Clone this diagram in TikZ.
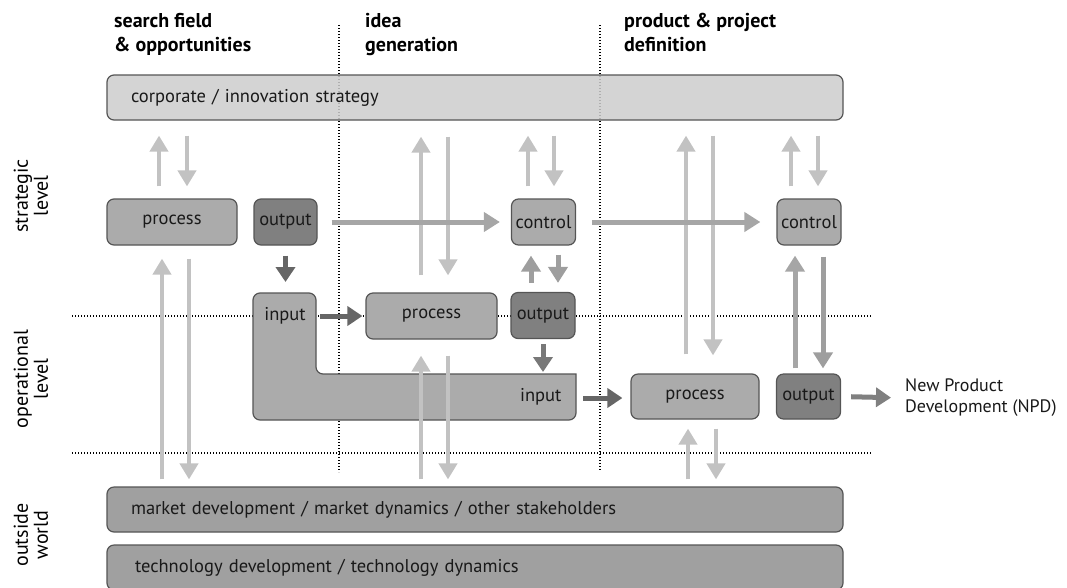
\documentclass[tikz,border=0pt]{standalone}
\usepackage{fontspec}
\setmainfont{PT Sans}
\usetikzlibrary{positioning, arrows.meta}

\definecolor{corpFill}{HTML}{CDCDCD}
\definecolor{procFill}{HTML}{ABABAB}
\definecolor{outFill}{HTML}{808080}
\definecolor{worldFill}{HTML}{A0A0A0}
\definecolor{boxLine}{HTML}{555555}
\definecolor{liteArrow}{HTML}{C2C2C2}
\definecolor{midArrow}{HTML}{A6A6A6}
\definecolor{darkArrow}{HTML}{666666}

\begin{document}
\begin{tikzpicture}[
    x=1pt, y=-1pt,
    every node/.style={font=\fontsize{18.5}{22}\selectfont, text=black!90},
    box/.style={draw=boxLine, line width=1.2pt, rounded corners=7pt, inner sep=0pt, minimum height=46pt},
    procbox/.style={box, fill=procFill},
    outbox/.style={box, fill=outFill},
    widebox/.style={box, minimum height=45pt, text width=688pt, inner xsep=24pt, align=left},
    head/.style={font=\bfseries\fontsize{20}{24}\selectfont, text=black, align=left, anchor=north west, inner sep=0pt},
    side/.style={font=\fontsize{20}{20}\selectfont, text=black, align=center, rotate=90},
    grid/.style={line width=1.2pt, dash pattern=on 1.4pt off 1.6pt},
    gaps/.style 2 args={shorten <=#1, shorten >=#2},
    lite/.style={draw=liteArrow, line width=4pt, -{Triangle[length=16pt,width=18pt]}},
    mid/.style={draw=midArrow, line width=5pt, -{Triangle[length=16pt,width=19pt]}},
    dark/.style={draw=darkArrow, line width=5pt, -{Triangle[length=15pt,width=19pt]}}
]
    \useasboundingbox (0,0) rectangle (1067,587);

    % level and phase borders
    \draw[grid] (72,316) -- (872,316);
    \draw[grid] (72,453) -- (872,453);
    \draw[grid] (339,25) -- (339,472);
    \draw[grid] (600,25) -- (600,470);

    % headers
    \node (hSearch) [head] at (114,13) {search field\\\& opportunities};
    \node (hIdea) [head] at (365,13) {idea\\generation};
    \node (hDef) [head] at (624,13) {product \& project\\definition};

    \node (lStrat) [side] at (31,196) {strategic\\level};
    \node (lOper) [side] at (31,379) {operational\\level};
    \node (lWorld) [side] at (31,535) {outside\\world};

    % strategic level
    \node (corp) [widebox, fill=corpFill, fill opacity=0.85, text opacity=1] at (475,97.5) {corporate / innovation strategy};
    \node (sProc) [procbox, minimum width=130pt] at (172,222) {process};
    \node (sOut) [outbox, minimum width=63pt] at (285.5,222) {output};
    \node (ctrlA) [procbox, minimum width=64pt] at (543.5,222) {control};
    \node (ctrlB) [procbox, minimum width=64pt] at (809,222) {control};

    % operational level
    \draw[draw=boxLine, line width=1.2pt, fill=procFill] (253,350) [rounded corners=7pt] -- (253,293) -- (316,293) -- (316,374)
        [sharp corners] -- (576,374) [rounded corners=7pt] -- (576,420) -- (253,420) -- cycle;
    \node (inA) at (285,316) {input};
    \node (inB) [anchor=east] at (565,397) {input};
    \coordinate (inTop) at (285.5,293);
    \coordinate (inTopR) at (543,374);
    \coordinate (inEdgeA) at (316,316);
    \coordinate (inEdgeB) at (576,398);

    \node (oProc) [procbox, minimum width=131pt] at (431.5,316) {process};
    \node (oOut) [outbox, minimum width=64pt] at (543,315.5) {output};
    \node (dProc) [procbox, minimum width=128pt, minimum height=45pt] at (695,396.5) {process};
    \node (dOut) [outbox, minimum width=64pt, minimum height=45pt] at (808.5,396.5) {output};
    \node (npd) [anchor=west, align=left, inner sep=0pt, font=\fontsize{18}{21}\selectfont] at (905,398) {New Product\\Development (NPD)};

    % outside world
    \node (market) [widebox, fill=worldFill] at (475,509.5) {market development / market dynamics / other stakeholders};
    \node (tech) [widebox, fill=worldFill, inner xsep=28pt, text width=680pt] at (475,567.5) {technology development / technology dynamics};

    % exchange with strategy and outside world
    \draw[lite, gaps={12pt}{15pt}] (159,0 |- sProc.north) -- (159,0 |- corp.south);
    \draw[lite, gaps={15pt}{12pt}] (187,0 |- corp.south) -- (187,0 |- sProc.north);
    \draw[lite, gaps={7pt}{13pt}] (162,0 |- market.north) -- (162,0 |- sProc.south);
    \draw[lite, gaps={13pt}{7pt}] (189,0 |- sProc.south) -- (189,0 |- market.north);

    \draw[lite, gaps={17pt}{16pt}] (421,0 |- oProc.north) -- (421,0 |- corp.south);
    \draw[lite, gaps={16pt}{17pt}] (448,0 |- corp.south) -- (448,0 |- oProc.north);
    \draw[lite, gaps={7pt}{16pt}] (421,0 |- market.north) -- (421,0 |- oProc.south);
    \draw[lite, gaps={16pt}{7pt}] (448,0 |- oProc.south) -- (448,0 |- market.north);

    \draw[lite, gaps={12pt}{15pt}] (528,0 |- ctrlA.north) -- (528,0 |- corp.south);
    \draw[lite, gaps={15pt}{12pt}] (554,0 |- corp.south) -- (554,0 |- ctrlA.north);

    \draw[lite, gaps={19pt}{15pt}] (686,0 |- dProc.north) -- (686,0 |- corp.south);
    \draw[lite, gaps={15pt}{18pt}] (713,0 |- corp.south) -- (713,0 |- dProc.north);
    \draw[lite, gaps={7pt}{9pt}] (688,0 |- market.north) -- (688,0 |- dProc.south);
    \draw[lite, gaps={9pt}{7pt}] (716,0 |- dProc.south) -- (716,0 |- market.north);

    \draw[lite, gaps={12pt}{15pt}] (791,0 |- ctrlB.north) -- (791,0 |- corp.south);
    \draw[lite, gaps={15pt}{12pt}] (818,0 |- corp.south) -- (818,0 |- ctrlB.north);

    % control loops
    \draw[mid, gaps={14pt}{11pt}] (sOut.east) -- (ctrlA.west);
    \draw[mid, gaps={16pt}{16pt}] (ctrlA.east) -- (ctrlB.west);
    \draw[mid, draw=black!38, gaps={9pt}{10pt}] (531,0 |- oOut.north) -- (531,0 |- ctrlA.south);
    \draw[mid, draw=black!38, gaps={9pt}{9pt}] (558,0 |- ctrlA.south) -- (558,0 |- oOut.north);
    \draw[mid, gaps={5pt}{10pt}] (795,0 |- dOut.north) -- (795,0 |- ctrlB.south);
    \draw[mid, draw=black!38, gaps={11pt}{5pt}] (823,0 |- ctrlB.south) -- (823,0 |- dOut.north);

    % hand-over between phases
    \draw[dark, gaps={10pt}{11pt}] (sOut.south) -- (inTop);
    \draw[dark, gaps={4pt}{3pt}] (inEdgeA) -- (oProc.west);
    \draw[dark, draw=black!53, gaps={5pt}{2pt}] (oOut.south) -- (inTopR);
    \draw[dark, gaps={7pt}{8pt}] (inEdgeB) -- (inEdgeB -| dProc.west);
    \draw[dark, draw=outFill, gaps={10pt}{14pt}] (dOut.east) -- (npd.west);
\end{tikzpicture}
\end{document}
